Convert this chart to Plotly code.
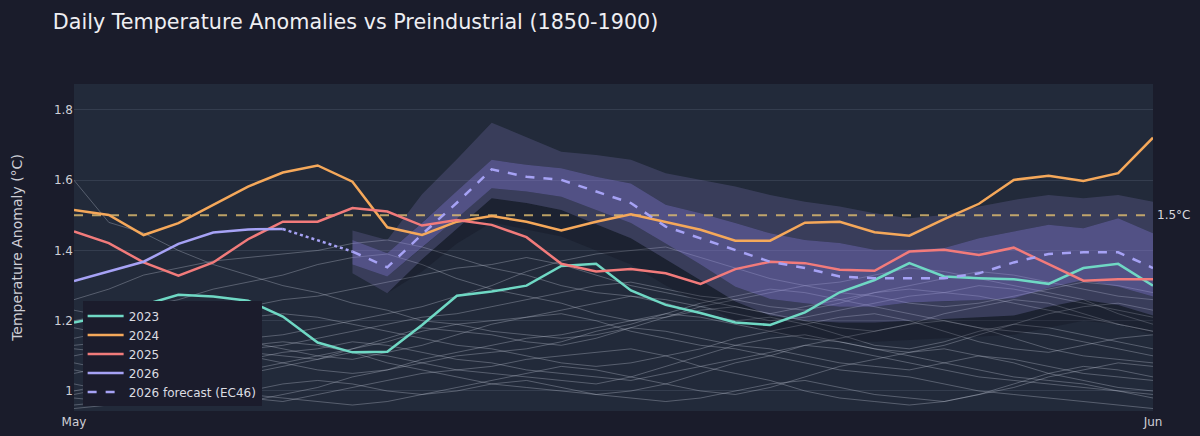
import plotly.graph_objects as go
import pandas as pd

days = pd.date_range("2026-05-01", "2026-06-01", freq="D")
x_dates = list(days)
fc_dates = x_dates[8:]

y2023 = [1.195, 1.215, 1.245, 1.274, 1.269, 1.257, 1.212, 1.138, 1.11, 1.112, 1.188, 1.271, 1.283, 1.3, 1.356, 1.362,
         1.286, 1.245, 1.222, 1.195, 1.188, 1.224, 1.281, 1.316, 1.364, 1.326, 1.321, 1.318, 1.305, 1.35, 1.362, 1.3]
y2024 = [1.515, 1.501, 1.444, 1.478, 1.53, 1.582, 1.622, 1.642, 1.596, 1.466, 1.444, 1.482, 1.498, 1.482, 1.457, 1.482,
         1.503, 1.482, 1.459, 1.428, 1.428, 1.479, 1.482, 1.452, 1.442, 1.489, 1.533, 1.601, 1.613, 1.598, 1.62, 1.721]
y2025 = [1.454, 1.421, 1.366, 1.328, 1.366, 1.432, 1.482, 1.482, 1.521, 1.511, 1.471, 1.487, 1.473, 1.438, 1.362, 1.34,
         1.347, 1.335, 1.305, 1.347, 1.368, 1.364, 1.345, 1.342, 1.397, 1.402, 1.387, 1.408, 1.361, 1.314, 1.318, 1.318]
y2026 = [1.313, 1.34, 1.368, 1.419, 1.451, 1.46, 1.461]

fc_mean = [1.397, 1.352, 1.446, 1.536, 1.631, 1.610, 1.601, 1.568, 1.535, 1.468, 1.435, 1.402,
           1.368, 1.350, 1.326, 1.321, 1.321, 1.321, 1.335, 1.366, 1.390, 1.395, 1.395, 1.350]
fc_outer_hi = [1.457, 1.430, 1.560, 1.660, 1.764, 1.723, 1.681, 1.672, 1.658, 1.620, 1.601, 1.582,
               1.558, 1.539, 1.525, 1.506, 1.492, 1.501, 1.525, 1.544, 1.558, 1.549, 1.558, 1.539]
fc_inner_hi = [1.430, 1.392, 1.479, 1.568, 1.658, 1.644, 1.634, 1.610, 1.591, 1.530, 1.506, 1.478,
               1.449, 1.430, 1.421, 1.402, 1.402, 1.407, 1.435, 1.454, 1.473, 1.463, 1.492, 1.449]
fc_inner_lo = [1.360, 1.326, 1.408, 1.492, 1.577, 1.568, 1.553, 1.515, 1.478, 1.420, 1.360, 1.297,
               1.262, 1.250, 1.240, 1.240, 1.252, 1.255, 1.259, 1.264, 1.293, 1.316, 1.297, 1.269]
fc_outer_lo = [1.335, 1.278, 1.375, 1.462, 1.549, 1.535, 1.515, 1.475, 1.435, 1.375, 1.315, 1.255,
               1.215, 1.200, 1.195, 1.195, 1.200, 1.205, 1.210, 1.215, 1.240, 1.260, 1.245, 1.215]
fc_shadow_lo = [1.335, 1.278, 1.340, 1.420, 1.480, 1.460, 1.440, 1.400, 1.360, 1.300, 1.250, 1.200,
                1.165, 1.150, 1.140, 1.140, 1.145, 1.150, 1.155, 1.160, 1.180, 1.200, 1.190, 1.160]

hist_1 = [1.60,1.48,1.45,1.40,1.36,1.33,1.30,1.28,1.25,1.23,1.20,1.19,1.17,1.16,1.15,1.16,1.18,1.17,1.15,1.13,1.12,1.10,1.08,1.07,1.06,1.08,1.10,1.09,1.07,1.05,1.04,1.03]
hist_2 = [1.26,1.29,1.33,1.35,1.37,1.38,1.39,1.40,1.42,1.43,1.41,1.38,1.35,1.33,1.30,1.28,1.27,1.25,1.22,1.20,1.21,1.19,1.16,1.13,1.12,1.14,1.17,1.19,1.18,1.16,1.14,1.12]
hist_3 = [1.20,1.22,1.24,1.26,1.29,1.31,1.33,1.36,1.38,1.39,1.36,1.32,1.29,1.27,1.25,1.22,1.20,1.21,1.23,1.24,1.22,1.20,1.18,1.17,1.19,1.22,1.24,1.26,1.25,1.22,1.19,1.17]
hist_4 = [1.12,1.11,1.10,1.12,1.14,1.15,1.16,1.18,1.20,1.22,1.24,1.27,1.30,1.34,1.37,1.39,1.40,1.41,1.38,1.35,1.32,1.30,1.28,1.27,1.25,1.24,1.25,1.27,1.29,1.31,1.30,1.28]
hist_5 = [1.08,1.06,1.05,1.07,1.09,1.11,1.10,1.09,1.12,1.15,1.18,1.17,1.16,1.14,1.13,1.15,1.18,1.21,1.24,1.26,1.28,1.30,1.31,1.33,1.35,1.34,1.32,1.30,1.28,1.26,1.22,1.19]
hist_6 = [1.02,1.00,0.99,1.01,1.03,1.05,1.07,1.09,1.11,1.10,1.08,1.06,1.05,1.04,1.03,1.02,1.04,1.07,1.10,1.13,1.15,1.16,1.14,1.12,1.11,1.13,1.16,1.19,1.22,1.24,1.25,1.23]
hist_7 = [0.98,0.97,0.96,0.97,0.99,1.00,1.02,1.03,1.02,1.00,0.99,1.01,1.03,1.05,1.07,1.06,1.04,1.02,1.00,0.99,1.01,1.04,1.07,1.09,1.11,1.12,1.10,1.08,1.05,1.03,1.01,1.00]
hist_8 = [1.15,1.17,1.19,1.18,1.16,1.14,1.12,1.10,1.09,1.11,1.13,1.16,1.19,1.21,1.22,1.20,1.17,1.15,1.13,1.12,1.10,1.08,1.06,1.05,1.04,1.02,1.00,0.99,0.98,0.97,0.96,0.95]
hist_9 = [1.05,1.07,1.09,1.10,1.12,1.13,1.14,1.13,1.11,1.08,1.06,1.04,1.02,1.01,1.00,0.99,1.00,1.02,1.05,1.08,1.10,1.13,1.15,1.17,1.19,1.20,1.18,1.15,1.12,1.10,1.09,1.08]
hist_10 = [0.96,0.97,0.99,1.02,1.04,1.06,1.08,1.10,1.12,1.14,1.17,1.19,1.20,1.21,1.23,1.25,1.27,1.26,1.24,1.22,1.20,1.21,1.23,1.25,1.27,1.28,1.30,1.29,1.27,1.25,1.23,1.21]
hist_11 = [1.18,1.16,1.14,1.13,1.12,1.10,1.08,1.06,1.05,1.06,1.08,1.10,1.11,1.12,1.14,1.17,1.19,1.22,1.25,1.27,1.29,1.28,1.26,1.24,1.22,1.20,1.18,1.17,1.16,1.14,1.12,1.10]
hist_12 = [1.00,1.02,1.04,1.03,1.01,0.99,0.98,0.97,0.96,0.97,0.99,1.00,1.02,1.03,1.01,0.99,0.98,0.97,0.98,1.00,1.02,1.03,1.01,0.99,0.98,0.97,0.99,1.01,1.04,1.06,1.08,1.07]
hist_13 = [1.10,1.12,1.15,1.17,1.19,1.21,1.22,1.21,1.19,1.17,1.15,1.13,1.12,1.10,1.08,1.07,1.08,1.10,1.12,1.15,1.17,1.19,1.21,1.22,1.20,1.17,1.14,1.12,1.11,1.13,1.15,1.16]
hist_14 = [1.23,1.21,1.18,1.15,1.13,1.12,1.13,1.15,1.17,1.19,1.21,1.22,1.24,1.26,1.28,1.30,1.31,1.29,1.27,1.26,1.24,1.23,1.25,1.28,1.30,1.32,1.34,1.33,1.31,1.29,1.27,1.26]
hist_15 = [0.95,0.96,0.98,1.00,0.99,0.98,0.97,0.99,1.01,1.03,1.05,1.06,1.07,1.09,1.10,1.11,1.12,1.10,1.07,1.05,1.03,1.00,0.98,0.97,0.96,0.97,0.99,1.02,1.05,1.07,1.06,1.04]
hist_16 = [1.06,1.04,1.02,1.00,0.98,0.97,0.99,1.01,1.04,1.06,1.09,1.11,1.13,1.15,1.16,1.18,1.20,1.22,1.21,1.19,1.17,1.15,1.14,1.12,1.10,1.08,1.06,1.04,1.03,1.02,1.00,0.99]
hist_17 = [1.13,1.14,1.16,1.19,1.22,1.24,1.26,1.27,1.29,1.31,1.33,1.35,1.36,1.38,1.36,1.33,1.30,1.28,1.26,1.24,1.22,1.24,1.26,1.28,1.29,1.28,1.27,1.25,1.23,1.21,1.19,1.17]
hist_18 = [0.99,1.01,1.03,1.05,1.07,1.09,1.11,1.12,1.14,1.13,1.11,1.09,1.08,1.06,1.05,1.04,1.03,1.05,1.07,1.09,1.11,1.13,1.12,1.10,1.08,1.06,1.04,1.03,1.02,1.01,1.00,0.98]

threshold = 1.5

C2023 = "#6fd8c4"
C2024 = "#f5a85a"
C2025 = "#f27b7b"
C2026 = "#a6a2f5"
FONT = "DejaVu Sans, Verdana, sans-serif"

fig = go.Figure()

for h in [hist_1, hist_2, hist_3, hist_4, hist_5, hist_6, hist_7, hist_8, hist_9,
          hist_10, hist_11, hist_12, hist_13, hist_14, hist_15, hist_16, hist_17, hist_18]:
    fig.add_trace(go.Scatter(x=x_dates, y=h, mode="lines", showlegend=False, hoverinfo="skip",
                             line=dict(color="rgba(190,195,210,0.34)", width=1)))


def band(upper, lower, color):
    fig.add_trace(go.Scatter(x=fc_dates + fc_dates[::-1], y=upper + lower[::-1], mode="lines",
                             fill="toself", fillcolor=color, line=dict(width=0),
                             showlegend=False, hoverinfo="skip"))


band(fc_outer_lo, fc_shadow_lo, "rgba(10,10,22,0.25)")
band(fc_outer_hi, fc_inner_hi, "rgba(140,130,205,0.22)")
band(fc_inner_lo, fc_outer_lo, "rgba(140,130,205,0.22)")
band(fc_inner_hi, fc_inner_lo, "rgba(135,125,215,0.48)")

fig.add_trace(go.Scatter(x=[x_dates[0], x_dates[-1]], y=[threshold, threshold], mode="lines",
                         showlegend=False, hoverinfo="skip",
                         line=dict(color="rgba(222,188,112,0.82)", width=2, dash="dash")))

fig.add_trace(go.Scatter(x=x_dates, y=y2023, mode="lines", name="2023", line=dict(color=C2023, width=2.5)))
fig.add_trace(go.Scatter(x=x_dates, y=y2024, mode="lines", name="2024", line=dict(color=C2024, width=2.5)))
fig.add_trace(go.Scatter(x=x_dates, y=y2025, mode="lines", name="2025", line=dict(color=C2025, width=2.5)))
fig.add_trace(go.Scatter(x=x_dates[:len(y2026)], y=y2026, mode="lines", name="2026",
                         line=dict(color=C2026, width=2.5)))
fig.add_trace(go.Scatter(x=[x_dates[len(y2026) - 1], fc_dates[0]], y=[y2026[-1], fc_mean[0]], mode="lines",
                         showlegend=False, hoverinfo="skip", line=dict(color=C2026, width=2.5, dash="dot")))
fig.add_trace(go.Scatter(x=fc_dates, y=fc_mean, mode="lines", name="2026 forecast (EC46)",
                         line=dict(color=C2026, width=2.5, dash="dash")))

fig.add_annotation(x=1, xref="paper", y=threshold, yref="y", text="1.5°C", showarrow=False,
                   xanchor="left", xshift=2, font=dict(color="#d8d8de", size=12, family=FONT))

fig.update_layout(
    width=1200, height=436,
    paper_bgcolor="#1a1c2b",
    plot_bgcolor="#222a3a",
    font=dict(family=FONT, color="#cfcfd6", size=12),
    title=dict(text="Daily Temperature Anomalies vs Preindustrial (1850-1900)", x=0.044, xanchor="left",
               y=0.95, yanchor="middle", font=dict(size=20.7, color="#eeeef2", family=FONT)),
    margin=dict(l=74, r=47, t=84, b=25),
    showlegend=True,
    legend=dict(x=0.008, y=0.014, xanchor="left", yanchor="bottom", bgcolor="#1b1c2c",
                itemwidth=36, font=dict(size=12, color="#dcdce2"), borderwidth=0),
    xaxis=dict(range=[x_dates[0], x_dates[-1]], dtick="M1", tickformat="%b", showgrid=False,
               zeroline=False, showline=False, ticks="", automargin=False, ticklabelstandoff=2,
               tickfont=dict(color="#cfcfd6", size=12)),
    yaxis=dict(range=[0.943, 1.874], dtick=0.2, tick0=1.0, gridcolor="rgba(120,130,150,0.22)",
               zeroline=False, showline=False, ticks="", automargin=False,
               title=dict(text="Temperature Anomaly (°C)", font=dict(size=14, color="#cfcfd6"), standoff=28)),
)

fig.write_html("out.html")
